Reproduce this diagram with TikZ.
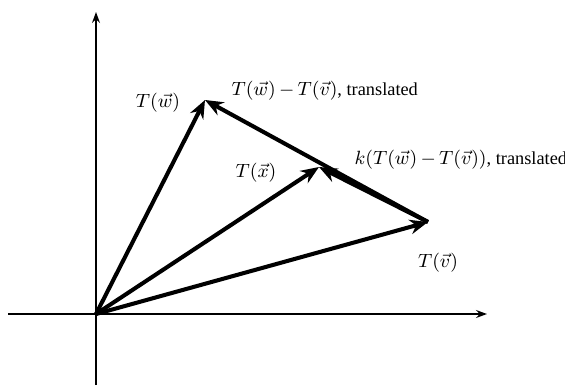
\documentclass[tikz,border=0pt]{standalone}
\usepackage{amsmath}
\usepackage{fontspec}
\setmainfont{Liberation Serif}
\usetikzlibrary{arrows.meta,positioning}
\tikzset{
  axisline/.style={-{Stealth[length=1.8mm,width=1.3mm]},line width=0.7pt,draw=black},
  vecarrow/.style={-{Stealth[length=3mm,width=2.4mm]},line width=1.9pt,draw=black},
  veclabel/.style={font=\fontsize{8.6}{10}\selectfont,inner sep=1pt}
}
\newcommand{\vdiff}{T(\vec{w})\,{-}\,T(\vec{v})}

\begin{document}
\begin{tikzpicture}[x=0.0165cm,y=-0.0165cm]
\useasboundingbox (0,0) rectangle (565,385);
% axes
\coordinate (o) at (96,314);
\coordinate (xl) at (8,314);
\coordinate (xr) at (487,314);
\coordinate (yb) at (96,385);
\coordinate (yt) at (96,12);
\draw[axisline] (xl)--(xr);
\draw[axisline] (yb)--(yt);
% vector tips
\coordinate (w) at (205,100);
\coordinate (v) at (428,222);
\coordinate (kx) at (319,167);
\draw[vecarrow] (o)--(w);
\draw[vecarrow] (o)--(v);
\draw[vecarrow] (o)--(kx);
\draw[vecarrow] (v)--(w);
\draw[vecarrow] (v)--(kx);
% labels
\node[veclabel] (lw) at (158,103) {$T(\vec{w})$};
\node[veclabel,anchor=west] (ldiff) at (229,91) {$\vdiff$, translated};
\node[veclabel,anchor=west] (lk) at (352,160) {$k(\vdiff)$, translated};
\node[veclabel] (lx) at (256,173) {$T(\vec{x})$};
\node[veclabel] (lv) at (438,263) {$T(\vec{v})$};
\end{tikzpicture}
\end{document}
